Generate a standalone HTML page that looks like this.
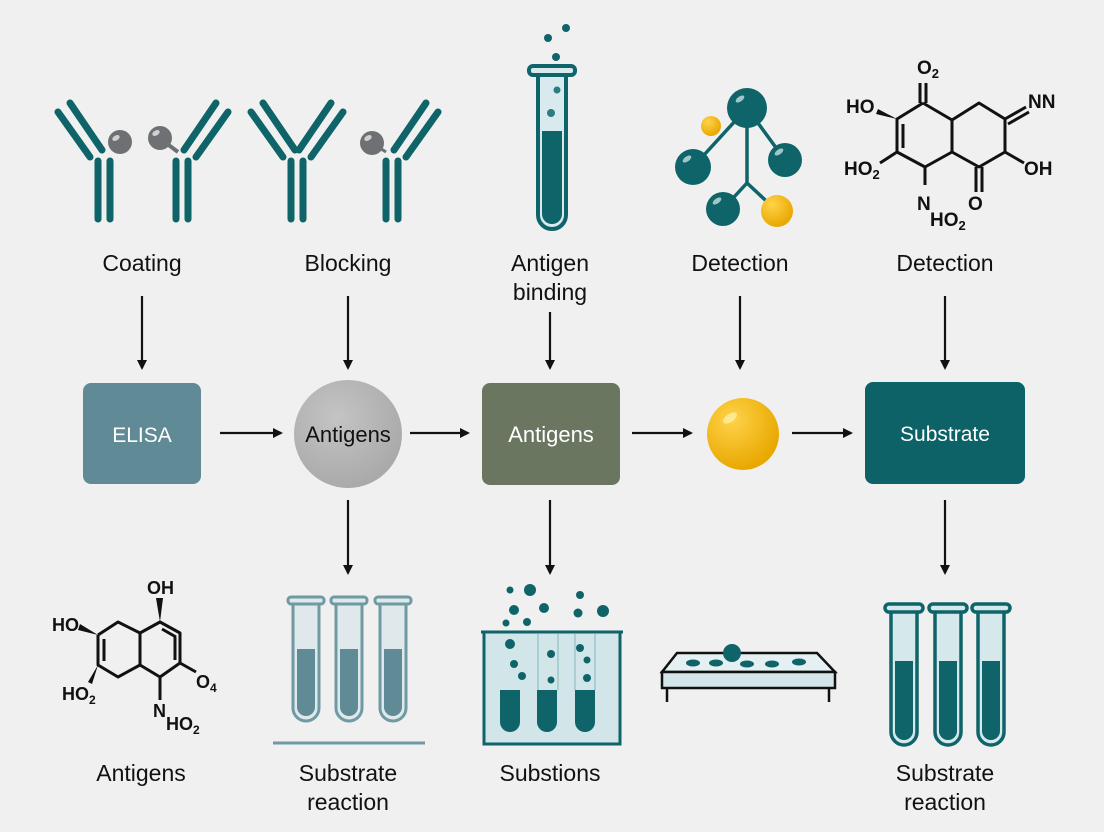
<!DOCTYPE html>
<html><head><meta charset="utf-8"><style>
html,body{margin:0;padding:0;background:#f0f0f0;}
svg{display:block;}
text{font-family:"Liberation Sans",sans-serif;}
</style></head><body>
<svg width="1104" height="832" viewBox="0 0 1104 832" xmlns="http://www.w3.org/2000/svg">
<defs>
<marker id="ah" markerWidth="10" markerHeight="10" refX="8" refY="5" orient="auto" markerUnits="userSpaceOnUse">
<path d="M0,0 L10,5 L0,10 z" fill="#111"/></marker>
<radialGradient id="gy" cx="35%" cy="30%" r="70%"><stop offset="0" stop-color="#ffd34a"/><stop offset="1" stop-color="#e8a800"/></radialGradient>
<radialGradient id="gc" cx="40%" cy="35%" r="70%"><stop offset="0" stop-color="#c4c4c4"/><stop offset="1" stop-color="#a8a8a8"/></radialGradient>
<g id="arm" stroke="#0e6468" stroke-width="7" stroke-linecap="round">
<line x1="-46" y1="-45" x2="-14" y2="0"/><line x1="-34" y1="-54" x2="-2" y2="-7"/></g>
<g id="stem" stroke="#0e6468" stroke-width="7" stroke-linecap="round">
<line x1="-6" y1="4" x2="-6" y2="62"/><line x1="6" y1="4" x2="6" y2="62"/></g>
</defs>
<rect width="1104" height="832" fill="#f0f0f0"/>

<!-- antibodies -->
<g transform="translate(104,157)"><use href="#stem"/><use href="#arm"/></g>
<circle cx="120" cy="142" r="12" fill="#6e7073"/><ellipse cx="116" cy="138" rx="4" ry="2.5" fill="#cfd0d2" transform="rotate(-30 116 138)"/>
<g transform="translate(182,157)"><use href="#stem"/><use href="#arm" transform="scale(-1,1)"/></g>
<line x1="162" y1="140" x2="178" y2="152" stroke="#6e7073" stroke-width="4"/>
<circle cx="160" cy="138" r="12" fill="#6e7073"/><ellipse cx="156" cy="133" rx="4" ry="2.5" fill="#cfd0d2" transform="rotate(-30 156 133)"/>
<g transform="translate(297,157)"><use href="#stem"/><use href="#arm"/><use href="#arm" transform="scale(-1,1)"/></g>
<g transform="translate(392,157)"><use href="#stem"/><use href="#arm" transform="scale(-1,1)"/></g>
<line x1="372" y1="143" x2="386" y2="152" stroke="#6e7073" stroke-width="3"/>
<circle cx="372" cy="143" r="12" fill="#6e7073"/><ellipse cx="368" cy="138" rx="4" ry="2.5" fill="#cfd0d2" transform="rotate(-30 368 138)"/>

<!-- test tube top -->
<circle cx="548" cy="38" r="4" fill="#0e6468"/><circle cx="566" cy="28" r="4" fill="#0e6468"/><circle cx="556" cy="57" r="4" fill="#0e6468"/>
<path d="M538,74 L538,215 a14,14 0 0 0 28,0 L566,74 z" fill="#d8eaee" stroke="#0e6468" stroke-width="4"/>
<path d="M542,131 L562,131 L562,214 a10,10 0 0 1 -20,0 z" fill="#0e6468"/>
<circle cx="557" cy="90" r="3.5" fill="#2b7d80"/><circle cx="551" cy="113" r="4" fill="#2b7d80"/>
<rect x="529" y="66" width="46" height="9" rx="4" fill="#d8eaee" stroke="#0e6468" stroke-width="4"/>

<!-- molecule -->
<g stroke="#0e6468" stroke-width="3.5">
<line x1="747" y1="108" x2="747" y2="183"/><line x1="747" y1="183" x2="723" y2="209"/><line x1="747" y1="183" x2="777" y2="211"/>
<line x1="747" y1="108" x2="693" y2="167"/><line x1="747" y1="108" x2="785" y2="160"/></g>
<circle cx="747" cy="108" r="20" fill="#0e6468"/><circle cx="711" cy="126" r="10" fill="url(#gy)"/>
<circle cx="693" cy="167" r="18" fill="#0e6468"/><circle cx="785" cy="160" r="17" fill="#0e6468"/>
<circle cx="723" cy="209" r="17" fill="#0e6468"/><circle cx="777" cy="211" r="16" fill="url(#gy)"/>
<g fill="#e0f0f0" opacity="0.7"><ellipse cx="740" cy="99" rx="5" ry="2.5" transform="rotate(-35 740 99)"/><ellipse cx="687" cy="159" rx="5" ry="2.5" transform="rotate(-35 687 159)"/><ellipse cx="779" cy="152" rx="5" ry="2.5" transform="rotate(-35 779 152)"/><ellipse cx="717" cy="201" rx="5" ry="2.5" transform="rotate(-35 717 201)"/></g>

<!-- chem top right -->
<g stroke="#111" stroke-width="3" fill="none" stroke-linejoin="round">
<polyline points="923,103 952,120 952,152 925,167 897,152 897,119 923,103"/>
<line x1="903" y1="124" x2="903" y2="148"/>
<polyline points="952,120 979,103 1005,119 1005,152 979,167 952,152"/>
<line x1="920" y1="103" x2="920" y2="83"/><line x1="926" y1="103" x2="926" y2="83"/>
<line x1="976" y1="167" x2="976" y2="192"/><line x1="982" y1="167" x2="982" y2="192"/>
<line x1="1005" y1="152" x2="1024" y2="163"/>
<line x1="1005" y1="119" x2="1026" y2="107"/><line x1="1008" y1="124" x2="1029" y2="112"/>
<line x1="897" y1="152" x2="880" y2="163"/>
<line x1="925" y1="167" x2="925" y2="185"/>
</g>
<path d="M897,119 L878,109 L876,114 z" fill="#111"/>
<g font-size="19" fill="#111" font-weight="bold">
<text x="846" y="113">HO</text><text x="844" y="175">HO<tspan font-size="13" dy="4">2</tspan></text>
<text x="917" y="74">O<tspan font-size="13" dy="4">2</tspan></text>
<text x="1028" y="108">NN</text><text x="1024" y="175">OH</text>
<text x="968" y="210">O</text><text x="917" y="210">N</text><text x="930" y="226">HO<tspan font-size="13" dy="4">2</tspan></text>
</g>

<!-- top labels -->
<g font-size="23" fill="#111" text-anchor="middle">
<text x="142" y="271">Coating</text><text x="348" y="271">Blocking</text>
<text x="550" y="271">Antigen</text><text x="550" y="300">binding</text>
<text x="740" y="271">Detection</text><text x="945" y="271">Detection</text>
</g>

<!-- arrows -->
<g stroke="#111" stroke-width="2.2" marker-end="url(#ah)">
<line x1="142" y1="296" x2="142" y2="368"/><line x1="348" y1="296" x2="348" y2="368"/>
<line x1="550" y1="312" x2="550" y2="368"/><line x1="740" y1="296" x2="740" y2="368"/>
<line x1="945" y1="296" x2="945" y2="368"/>
<line x1="220" y1="433" x2="281" y2="433"/><line x1="410" y1="433" x2="468" y2="433"/>
<line x1="632" y1="433" x2="691" y2="433"/><line x1="792" y1="433" x2="851" y2="433"/>
<line x1="348" y1="500" x2="348" y2="573"/><line x1="550" y1="500" x2="550" y2="573"/>
<line x1="945" y1="500" x2="945" y2="573"/>
</g>

<!-- middle row -->
<rect x="83" y="383" width="118" height="101" rx="8" fill="#5f8a96"/>
<text x="142" y="442" font-size="21" fill="#fff" text-anchor="middle">ELISA</text>
<circle cx="348" cy="434" r="54" fill="url(#gc)"/>
<text x="348" y="442" font-size="22" fill="#111" text-anchor="middle">Antigens</text>
<rect x="482" y="383" width="138" height="102" rx="8" fill="#6b7660"/>
<text x="551" y="442" font-size="22" fill="#fff" text-anchor="middle">Antigens</text>
<circle cx="743" cy="434" r="36" fill="url(#gy)"/>
<ellipse cx="730" cy="418" rx="8" ry="4" fill="#fff3b0" opacity="0.7" transform="rotate(-35 730 418)"/>
<rect x="865" y="382" width="160" height="102" rx="8" fill="#0c6266"/>
<text x="945" y="441" font-size="21" fill="#fff" text-anchor="middle">Substrate</text>

<!-- bottom left chem -->
<g stroke="#111" stroke-width="3" fill="none" stroke-linejoin="round">
<polyline points="98,635 118,622 140,633 140,665 118,677 98,665 98,635"/>
<line x1="104" y1="639" x2="104" y2="661"/>
<polyline points="140,633 160,622 180,633 180,663 160,677 140,665"/>
<line x1="162" y1="629" x2="176" y2="637"/><line x1="175" y1="637" x2="175" y2="660"/>
<line x1="180" y1="663" x2="196" y2="672"/><line x1="160" y1="677" x2="160" y2="700"/>
</g>
<path d="M160,622 L156,598 L163,598 z" fill="#111"/>
<path d="M98,635 L80,624 L78,630 z" fill="#111"/>
<path d="M98,665 L88,682 L92,684 z" fill="#111"/>
<g font-size="18" fill="#111" font-weight="bold">
<text x="147" y="594">OH</text><text x="52" y="631">HO</text>
<text x="62" y="700">HO<tspan font-size="12" dy="4">2</tspan></text>
<text x="196" y="688">O<tspan font-size="12" dy="4">4</tspan></text>
<text x="153" y="717">N</text><text x="166" y="730">HO<tspan font-size="12" dy="4">2</tspan></text>
</g>

<!-- bottom middle tubes -->
<g stroke="#6f9aa3" stroke-width="3">
<path d="M293,602 L293,708 a13,13 0 0 0 26,0 L319,602" fill="#dfe9eb"/>
<path d="M336,602 L336,708 a13,13 0 0 0 26,0 L362,602" fill="#dfe9eb"/>
<path d="M380,602 L380,708 a13,13 0 0 0 26,0 L406,602" fill="#dfe9eb"/>
<rect x="288" y="597" width="36" height="7" rx="3" fill="#dfe9eb"/>
<rect x="331" y="597" width="36" height="7" rx="3" fill="#dfe9eb"/>
<rect x="375" y="597" width="36" height="7" rx="3" fill="#dfe9eb"/>
<line x1="273" y1="743" x2="425" y2="743"/>
</g>
<g fill="#5f8a96"><path d="M297,649 h18 v58 a9,9 0 0 1 -18,0z"/><path d="M340,649 h18 v58 a9,9 0 0 1 -18,0z"/><path d="M384,649 h18 v58 a9,9 0 0 1 -18,0z"/></g>

<!-- beaker -->
<rect x="484" y="632" width="136" height="112" fill="#d2e6ea" stroke="#0e6468" stroke-width="3"/>
<line x1="481" y1="632" x2="623" y2="632" stroke="#0e6468" stroke-width="3"/>
<g fill="#0e6468">
<path d="M500,690 h20 v32 a10,10 0 0 1 -20,0z"/><path d="M537,690 h20 v32 a10,10 0 0 1 -20,0z"/><path d="M575,690 h20 v32 a10,10 0 0 1 -20,0z"/>
<circle cx="510" cy="590" r="3.5"/><circle cx="530" cy="590" r="6"/><circle cx="544" cy="608" r="5"/><circle cx="514" cy="610" r="5"/>
<circle cx="580" cy="595" r="4"/><circle cx="578" cy="613" r="4.5"/><circle cx="603" cy="611" r="6"/>
<circle cx="506" cy="623" r="3.5"/><circle cx="527" cy="622" r="4"/>
<circle cx="510" cy="644" r="5"/><circle cx="514" cy="664" r="4"/><circle cx="522" cy="676" r="4"/>
<circle cx="551" cy="654" r="4"/><circle cx="551" cy="680" r="3.5"/>
<circle cx="580" cy="648" r="4"/><circle cx="587" cy="660" r="3.5"/><circle cx="587" cy="678" r="4"/>
</g>
<g stroke="#a9cfd4" stroke-width="2" fill="none"><line x1="538" y1="634" x2="538" y2="690"/><line x1="558" y1="634" x2="558" y2="690"/><line x1="575" y1="634" x2="575" y2="690"/><line x1="595" y1="634" x2="595" y2="690"/></g>

<!-- tray -->
<path d="M677,653 L817,653 L835,672 L662,672 z" fill="#e4f0f2" stroke="#111" stroke-width="2.5"/>
<rect x="662" y="672" width="173" height="16" fill="#d2e6ea" stroke="#111" stroke-width="2.5"/>
<line x1="667" y1="688" x2="667" y2="702" stroke="#111" stroke-width="2.5"/><line x1="829" y1="688" x2="829" y2="702" stroke="#111" stroke-width="2.5"/>
<g fill="#0e6468"><ellipse cx="693" cy="663" rx="7" ry="3.5"/><ellipse cx="716" cy="663" rx="7" ry="3.5"/><ellipse cx="747" cy="664" rx="7" ry="3.5"/><ellipse cx="772" cy="664" rx="7" ry="3.5"/><ellipse cx="799" cy="662" rx="7" ry="3.5"/><circle cx="732" cy="653" r="9"/></g>

<!-- right tubes -->
<g stroke="#0e6468" stroke-width="3.5" fill="#d5e8ec">
<path d="M891,610 L891,732 a13,13 0 0 0 26,0 L917,610"/>
<path d="M935,610 L935,732 a13,13 0 0 0 26,0 L961,610"/>
<path d="M978,610 L978,732 a13,13 0 0 0 26,0 L1004,610"/>
<rect x="885" y="604" width="38" height="8" rx="4"/><rect x="929" y="604" width="38" height="8" rx="4"/><rect x="972" y="604" width="38" height="8" rx="4"/>
</g>
<g fill="#0e6468"><path d="M895,661 h18 v70 a9,9 0 0 1 -18,0z"/><path d="M939,661 h18 v70 a9,9 0 0 1 -18,0z"/><path d="M982,661 h18 v70 a9,9 0 0 1 -18,0z"/></g>

<!-- bottom labels -->
<g font-size="23" fill="#111" text-anchor="middle">
<text x="141" y="781">Antigens</text>
<text x="348" y="781">Substrate</text><text x="348" y="810">reaction</text>
<text x="550" y="781">Substions</text>
<text x="945" y="781">Substrate</text><text x="945" y="810">reaction</text>
</g>
</svg>
</body></html>
